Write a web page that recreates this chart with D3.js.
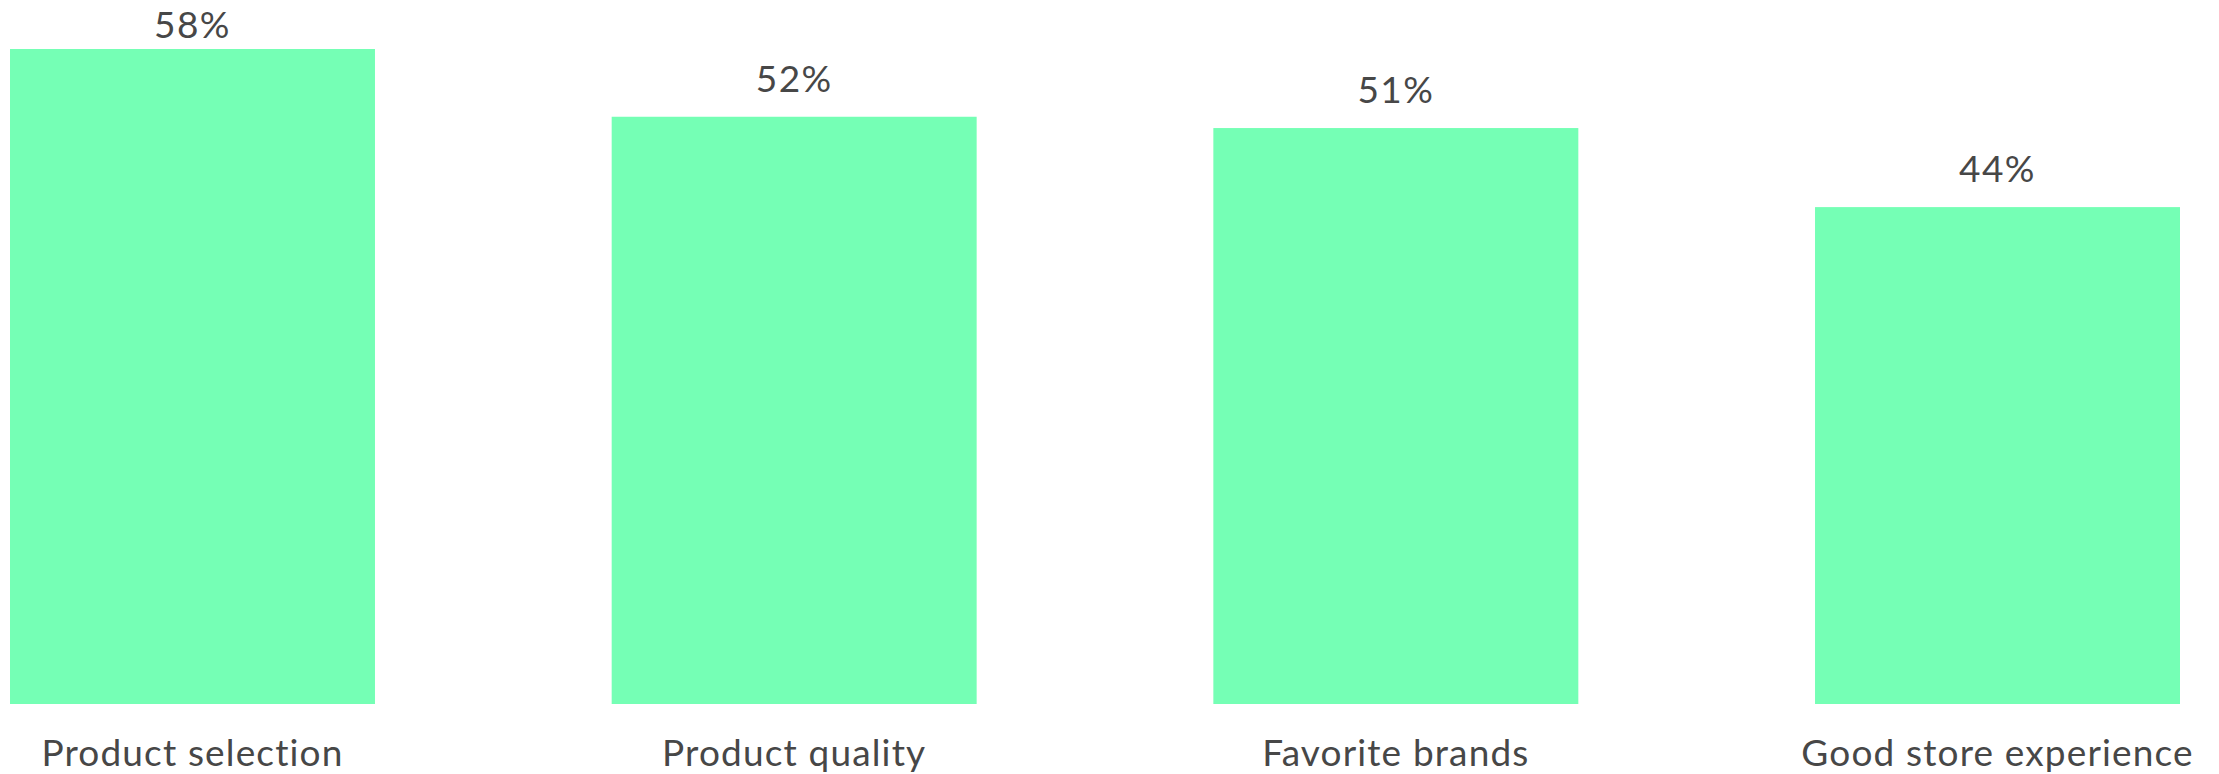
<!DOCTYPE html>
<html>
<head>
<meta charset="utf-8">
<script src="https://cdn.jsdelivr.net/npm/d3@7"></script>
<style>
  html, body { margin: 0; padding: 0; background: #ffffff; }
  svg { display: block; }
  text { font-family: Lato, "Open Sans", sans-serif; fill: #474747; }
</style>
</head>
<body>
<svg id="chart" width="2219" height="774"></svg>
<script>
// Share of respondents citing each reason
const categories = ["Product selection", "Product quality", "Favorite brands", "Good store experience"];
const values = [58, 52, 51, 44];

const svg = d3.select("#chart");

const x = d3.scaleBand()
  .domain(categories)
  .range([10, 2180])
  .paddingInner(0.3934)
  .paddingOuter(0);

const y = d3.scaleLinear()
  .domain([0, 58])
  .range([704, 49]);

const data = categories.map((c, i) => ({ cat: c, val: values[i] }));

svg.append("g")
  .selectAll("rect")
  .data(data)
  .join("rect")
  .attr("x", d => x(d.cat))
  .attr("y", d => y(d.val))
  .attr("width", x.bandwidth())
  .attr("height", d => y(0) - y(d.val))
  .attr("fill", "#75ffb5");

// value labels above bars, kept inside the top edge
svg.append("g")
  .selectAll("text")
  .data(data)
  .join("text")
  .attr("x", d => x(d.cat) + x.bandwidth() / 2)
  .attr("y", d => Math.max(38, y(d.val) - 25))
  .attr("text-anchor", "middle")
  .attr("font-size", 37)
  .style("letter-spacing", "1.4px")
  .text(d => d.val + "%");

// category axis without line or ticks
const xAxis = svg.append("g")
  .attr("transform", `translate(0,${y(0)})`)
  .call(d3.axisBottom(x).tickSize(0).tickPadding(62));
xAxis.select(".domain").remove();
xAxis.selectAll("text")
  .attr("font-size", 37)
  .attr("dy", 0)
  .attr("fill", "#474747")
  .style("font-family", "Lato, 'Open Sans', sans-serif")
  .style("letter-spacing", "1.15px");
</script>
</body>
</html>
